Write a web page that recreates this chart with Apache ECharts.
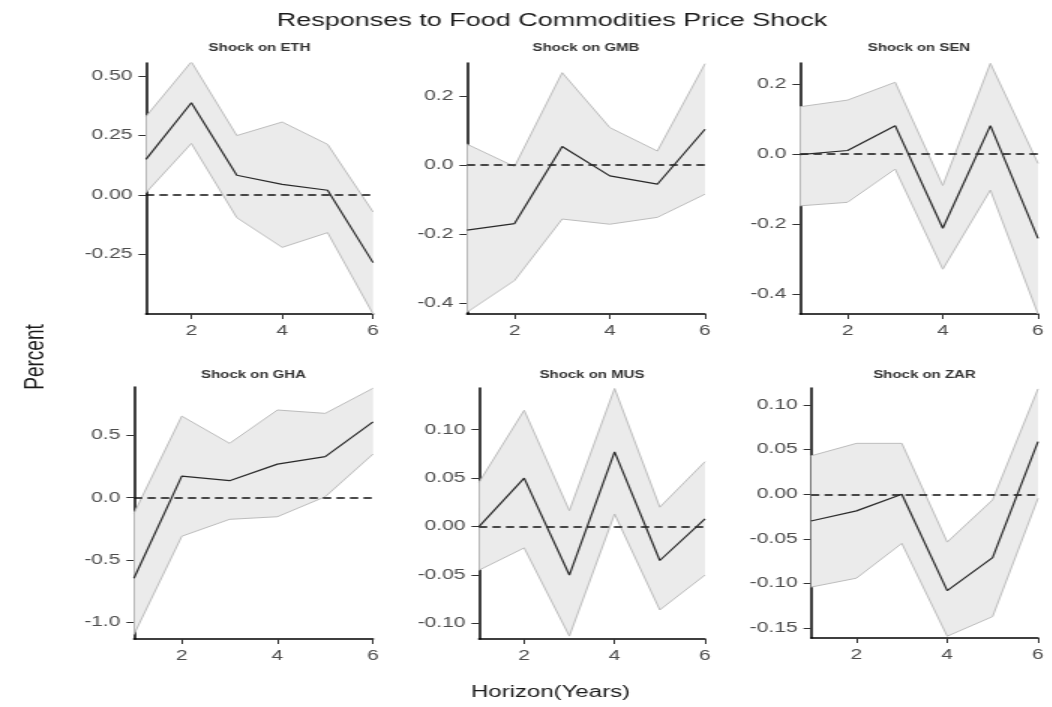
<!DOCTYPE html>
<html>
<head>
<meta charset="utf-8">
<script src="https://cdn.jsdelivr.net/npm/echarts@6/dist/echarts.min.js"></script>
<style>
  html, body { margin: 0; padding: 0; background: #ffffff; overflow: hidden; }
  /* the figure is laid out narrow and widened horizontally as a whole */
  #chart { width: 701.333px; height: 707px; transform: scaleX(1.5); transform-origin: 0 0; }
</style>
</head>
<body>
<div id="chart"></div>
<script>
// Impulse responses (years 1..6): point estimate with lower/upper bands
const horizon = [1, 2, 3, 4, 5, 6];

const ethMean  = [0.150, 0.388, 0.083, 0.045, 0.020, -0.284];
const ethUpper = [0.330, 0.560, 0.250, 0.307, 0.213, -0.071];
const ethLower = [0.010, 0.217, -0.095, -0.220, -0.158, -0.500];

const gmbMean  = [-0.189, -0.170, 0.053, -0.032, -0.056, 0.103];
const gmbUpper = [0.060, -0.005, 0.267, 0.108, 0.040, 0.293];
const gmbLower = [-0.427, -0.335, -0.157, -0.172, -0.152, -0.085];

const senMean  = [-0.002, 0.010, 0.081, -0.212, 0.081, -0.241];
const senUpper = [0.135, 0.154, 0.205, -0.090, 0.259, -0.027];
const senLower = [-0.148, -0.138, -0.043, -0.329, -0.103, -0.457];

const ghaMean  = [-0.648, 0.174, 0.137, 0.270, 0.330, 0.610];
const ghaUpper = [-0.126, 0.656, 0.437, 0.705, 0.678, 0.880];
const ghaLower = [-1.100, -0.310, -0.174, -0.153, 0.008, 0.351];

const musMean  = [0.000, 0.050, -0.050, 0.077, -0.035, 0.008];
const musUpper = [0.0455, 0.120, 0.0164, 0.1425, 0.020, 0.067];
const musLower = [-0.045, -0.022, -0.113, 0.013, -0.086, -0.050];

const zarMean  = [-0.030, -0.0186, 0.000, -0.108, -0.071, 0.059];
const zarUpper = [0.043, 0.057, 0.057, -0.0536, -0.0063, 0.118];
const zarLower = [-0.104, -0.094, -0.055, -0.159, -0.137, -0.0045];

// tick labels
const xTicks   = ['2', '4', '6'];
const ethTicks = ['0.50', '0.25', '0.00', '-0.25'];
const gmbTicks = ['0.2', '0.0', '-0.2', '-0.4'];
const senTicks = ['0.2', '0.0', '-0.2', '-0.4'];
const ghaTicks = ['0.5', '0.0', '-0.5', '-1.0'];
const musTicks = ['0.10', '0.05', '0.00', '-0.05', '-0.10'];
const zarTicks = ['0.10', '0.05', '0.00', '-0.05', '-0.10', '-0.15'];

const mainTitle = 'Responses to Food Commodities Price Shock';
const xTitle = 'Horizon(Years)';
const yTitle = 'Percent';

const panels = [
  { title: 'Shock on ETH', mean: ethMean, upper: ethUpper, lower: ethLower, ticks: ethTicks },
  { title: 'Shock on GMB', mean: gmbMean, upper: gmbUpper, lower: gmbLower, ticks: gmbTicks },
  { title: 'Shock on SEN', mean: senMean, upper: senUpper, lower: senLower, ticks: senTicks },
  { title: 'Shock on GHA', mean: ghaMean, upper: ghaUpper, lower: ghaLower, ticks: ghaTicks },
  { title: 'Shock on MUS', mean: musMean, upper: musUpper, lower: musLower, ticks: musTicks },
  { title: 'Shock on ZAR', mean: zarMean, upper: zarUpper, lower: zarLower, ticks: zarTicks }
];

// layout (in the narrow, pre-widening coordinate space)
const layout = [
  { left: 97.3,  top: 63,  width: 151.4, height: 251, min: -0.500, max: 0.555 },
  { left: 311.3, top: 63,  width: 158.7, height: 251, min: -0.432, max: 0.295 },
  { left: 533.3, top: 63,  width: 158.7, height: 251, min: -0.457, max: 0.260 },
  { left: 89.3,  top: 387, width: 159.4, height: 252, min: -1.136, max: 0.890 },
  { left: 319.3, top: 388, width: 150.7, height: 251, min: -0.116, max: 0.143 },
  { left: 540.7, top: 388, width: 151.3, height: 250, min: -0.161, max: 0.119 }
];

const FONT = "'Liberation Sans', Arial, sans-serif";
const pairs = arr => horizon.map((h, i) => [h, arr[i]]);

const grid = [], xAxis = [], yAxis = [], series = [], graphic = [];

panels.forEach((p, i) => {
  const L = layout[i];
  grid.push({ left: L.left, top: L.top, width: L.width, height: L.height, containLabel: false });

  const axisLine = { show: true, onZero: false, lineStyle: { color: '#000', width: 1.5 } };
  const axisTick = { show: true, length: 5, lineStyle: { color: '#333', width: 1 } };

  const xVals = xTicks.map(Number);
  xAxis.push({
    type: 'value', gridIndex: i, min: 1, max: 6,
    axisLine: axisLine,
    axisTick: Object.assign({}, axisTick, { customValues: xVals }),
    axisLabel: {
      customValues: xVals, color: '#4d4d4d', fontSize: 14, fontFamily: FONT, margin: 10,
      formatter: v => xTicks.find(t => Math.abs(Number(t) - v) < 1e-9) || ''
    },
    splitLine: { show: false }
  });

  const yVals = p.ticks.map(Number);
  yAxis.push({
    type: 'value', gridIndex: i, min: L.min, max: L.max,
    axisLine: axisLine,
    axisTick: Object.assign({}, axisTick, { customValues: yVals }),
    axisLabel: {
      customValues: yVals, color: '#4d4d4d', fontSize: 14, fontFamily: FONT, margin: 9,
      formatter: v => p.ticks.find(t => Math.abs(Number(t) - v) < 1e-9) || ''
    },
    splitLine: { show: false }
  });

  // shaded confidence band: polygon along the upper bound and back along the lower bound
  series.push({
    type: 'custom', xAxisIndex: i, yAxisIndex: i, data: [[horizon[0], p.mean[0]]],
    silent: true, clip: true, z: 1,
    renderItem: (params, api) => {
      const pts = horizon.map((h, k) => api.coord([h, p.upper[k]]))
        .concat(horizon.slice().reverse().map((h, k) => api.coord([h, p.lower[horizon.length - 1 - k]])));
      return { type: 'polygon', shape: { points: pts }, style: { fill: '#ebebeb', stroke: null } };
    }
  });
  // band outlines
  series.push({
    type: 'line', xAxisIndex: i, yAxisIndex: i, data: pairs(p.upper),
    symbol: 'none', silent: true, lineStyle: { color: '#bdbdbd', width: 1 }, z: 2
  });
  series.push({
    type: 'line', xAxisIndex: i, yAxisIndex: i, data: pairs(p.lower),
    symbol: 'none', silent: true, lineStyle: { color: '#bdbdbd', width: 1 }, z: 2
  });
  // point estimate + zero reference
  series.push({
    type: 'line', xAxisIndex: i, yAxisIndex: i, data: pairs(p.mean),
    symbol: 'none', silent: true, lineStyle: { color: '#2a2a2a', width: 1.2 }, z: 4,
    markLine: {
      symbol: 'none', silent: true, label: { show: false },
      lineStyle: { color: '#111', width: 1.5, type: [5.5, 3.5] },
      data: [{ yAxis: 0 }], z: 3
    }
  });

  graphic.push({
    type: 'text', x: L.left + L.width / 2, y: (i < 3 ? 48 : 375),
    style: {
      text: p.title, fill: '#333', fontSize: 10, fontWeight: 'bold', fontFamily: FONT,
      align: 'center', verticalAlign: 'middle', textAlign: 'center', textVerticalAlign: 'middle'
    }
  });
});

graphic.push({
  type: 'text', x: 368, y: 21,
  style: {
    text: mainTitle, fill: '#1a1a1a', fontSize: 18, fontFamily: FONT,
    align: 'center', verticalAlign: 'middle', textAlign: 'center', textVerticalAlign: 'middle'
  }
});
graphic.push({
  type: 'text', x: 367, y: 693,
  style: {
    text: xTitle, fill: '#1a1a1a', fontSize: 16, fontFamily: FONT,
    align: 'center', verticalAlign: 'middle', textAlign: 'center', textVerticalAlign: 'middle'
  }
});
graphic.push({
  type: 'text', x: 23.3, y: 357, rotation: Math.PI / 2,
  style: {
    text: yTitle, fill: '#1a1a1a', fontSize: 19, fontFamily: FONT,
    align: 'center', verticalAlign: 'middle', textAlign: 'center', textVerticalAlign: 'middle'
  }
});

const chart = echarts.init(document.getElementById('chart'), null, { renderer: 'canvas' });
chart.setOption({
  animation: false,
  backgroundColor: '#ffffff',
  grid: grid, xAxis: xAxis, yAxis: yAxis, series: series, graphic: graphic
});
</script>
</body>
</html>
